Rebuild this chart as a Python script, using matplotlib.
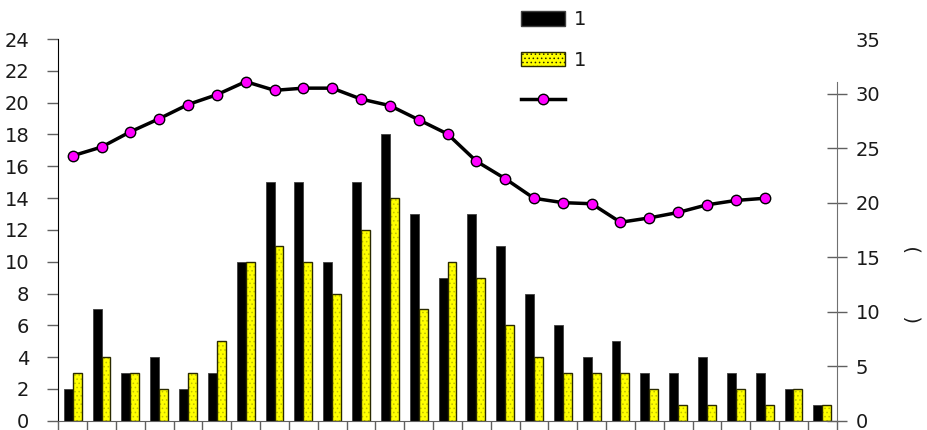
import numpy as np
import matplotlib
matplotlib.use("Agg")
import matplotlib.pyplot as plt
from matplotlib.patches import Patch
from matplotlib.lines import Line2D

# bar series (left axis) and line series (right axis)
black_vals = [2, 7, 3, 4, 2, 3, 10, 15, 15, 10, 15, 18, 13, 9, 13, 11, 8, 6,
              4, 5, 3, 3, 4, 3, 3, 2, 1]
yellow_vals = [3, 4, 3, 2, 3, 5, 10, 11, 10, 8, 12, 14, 7, 10, 9, 6, 4, 3,
               3, 3, 2, 1, 1, 2, 1, 2, 1]
line_vals = [24.3, 25.1, 26.5, 27.7, 29.0, 29.9, 31.1, 30.3, 30.5, 30.5,
             29.5, 28.9, 27.6, 26.3, 23.8, 22.2, 20.4, 20.0, 19.9, 18.2,
             18.6, 19.1, 19.8, 20.2, 20.4]
legend_labels = ["1", "1", ""]
right_label = "(          )"

plt.rcParams['font.family'] = ['DejaVu Sans']
plt.rcParams['hatch.linewidth'] = 0.6
plt.rcParams['text.color'] = '#1a1a1a'
plt.rcParams['ytick.labelcolor'] = '#1a1a1a'

YELLOW = '#ffff00'
DOTS = '#c0c000'
YEDGE = '#2a2a00'

fig = plt.figure(figsize=(9.27, 4.30), dpi=100)
ax = fig.add_axes([0.0629, 0.0216, 0.8397, 0.8875])
ax2 = ax.twinx()

n = len(black_vals)
x = np.arange(n)
w = 0.31

ax.bar(x - w / 2, black_vals, w, color='black', edgecolor='#404040',
       linewidth=0.6, zorder=2)
# yellow fill with faint dots, then a dark outline on top
ax.bar(x + w / 2, yellow_vals, w, facecolor=YELLOW, edgecolor=DOTS,
       linewidth=0, hatch='....', zorder=2)
ax.bar(x + w / 2, yellow_vals, w, facecolor='none', edgecolor=YEDGE,
       linewidth=1.0, zorder=2)

xl = np.arange(len(line_vals))
ax2.plot(xl, line_vals, color='black', lw=2.5, marker='o', markersize=7.5,
         markerfacecolor='#ff00ff', markeredgecolor='black',
         markeredgewidth=1.0, zorder=3)

# left axis
ax.set_xlim(-0.5, n - 0.5)
ax.set_ylim(0, 24)
ax.set_yticks(range(0, 25, 2))
ax.set_xticks(np.arange(-0.5, n, 1.0))
ax.set_xticklabels([])
ax.tick_params(axis='y', direction='out', length=8, width=1,
               color='#606060', labelsize=14, pad=13)
ax.tick_params(axis='x', direction='out', length=8, width=1,
               color='#606060')
for s in ['top', 'right']:
    ax.spines[s].set_visible(False)
ax.spines['left'].set_color('black')
ax.spines['bottom'].set_color('#606060')

# right axis
ax2.set_ylim(0, 35)
ax2.set_yticks(range(0, 36, 5))
ax2.tick_params(axis='y', direction='inout', length=15, width=1,
                color='#606060', labelsize=14, pad=6)
ax2.yaxis.get_major_ticks()[-1].tick2line.set_visible(False)
ax2.spines['right'].set_bounds(0, 31.1)
ax2.spines['right'].set_color('#707070')
for s in ['top', 'left', 'bottom']:
    ax2.spines[s].set_visible(False)

fig.text(0.986, 0.338, right_label, rotation=90, fontsize=14,
         ha='center', va='center')

handles = [Patch(facecolor='black', edgecolor='#404040'),
           Patch(facecolor=YELLOW, edgecolor=YEDGE, hatch='....'),
           Line2D([], [], color='black', lw=2.5, marker='o', markersize=7.5,
                  markerfacecolor='#ff00ff', markeredgecolor='black')]
leg = fig.legend(handles, legend_labels, loc='upper left',
                 bbox_to_anchor=(0.562, 0.976), frameon=False, fontsize=14,
                 handlelength=2.25, handleheight=0.8, handletextpad=0.45,
                 labelspacing=1.1, borderpad=0, borderaxespad=0)

fig.savefig('out.png', dpi=100)
